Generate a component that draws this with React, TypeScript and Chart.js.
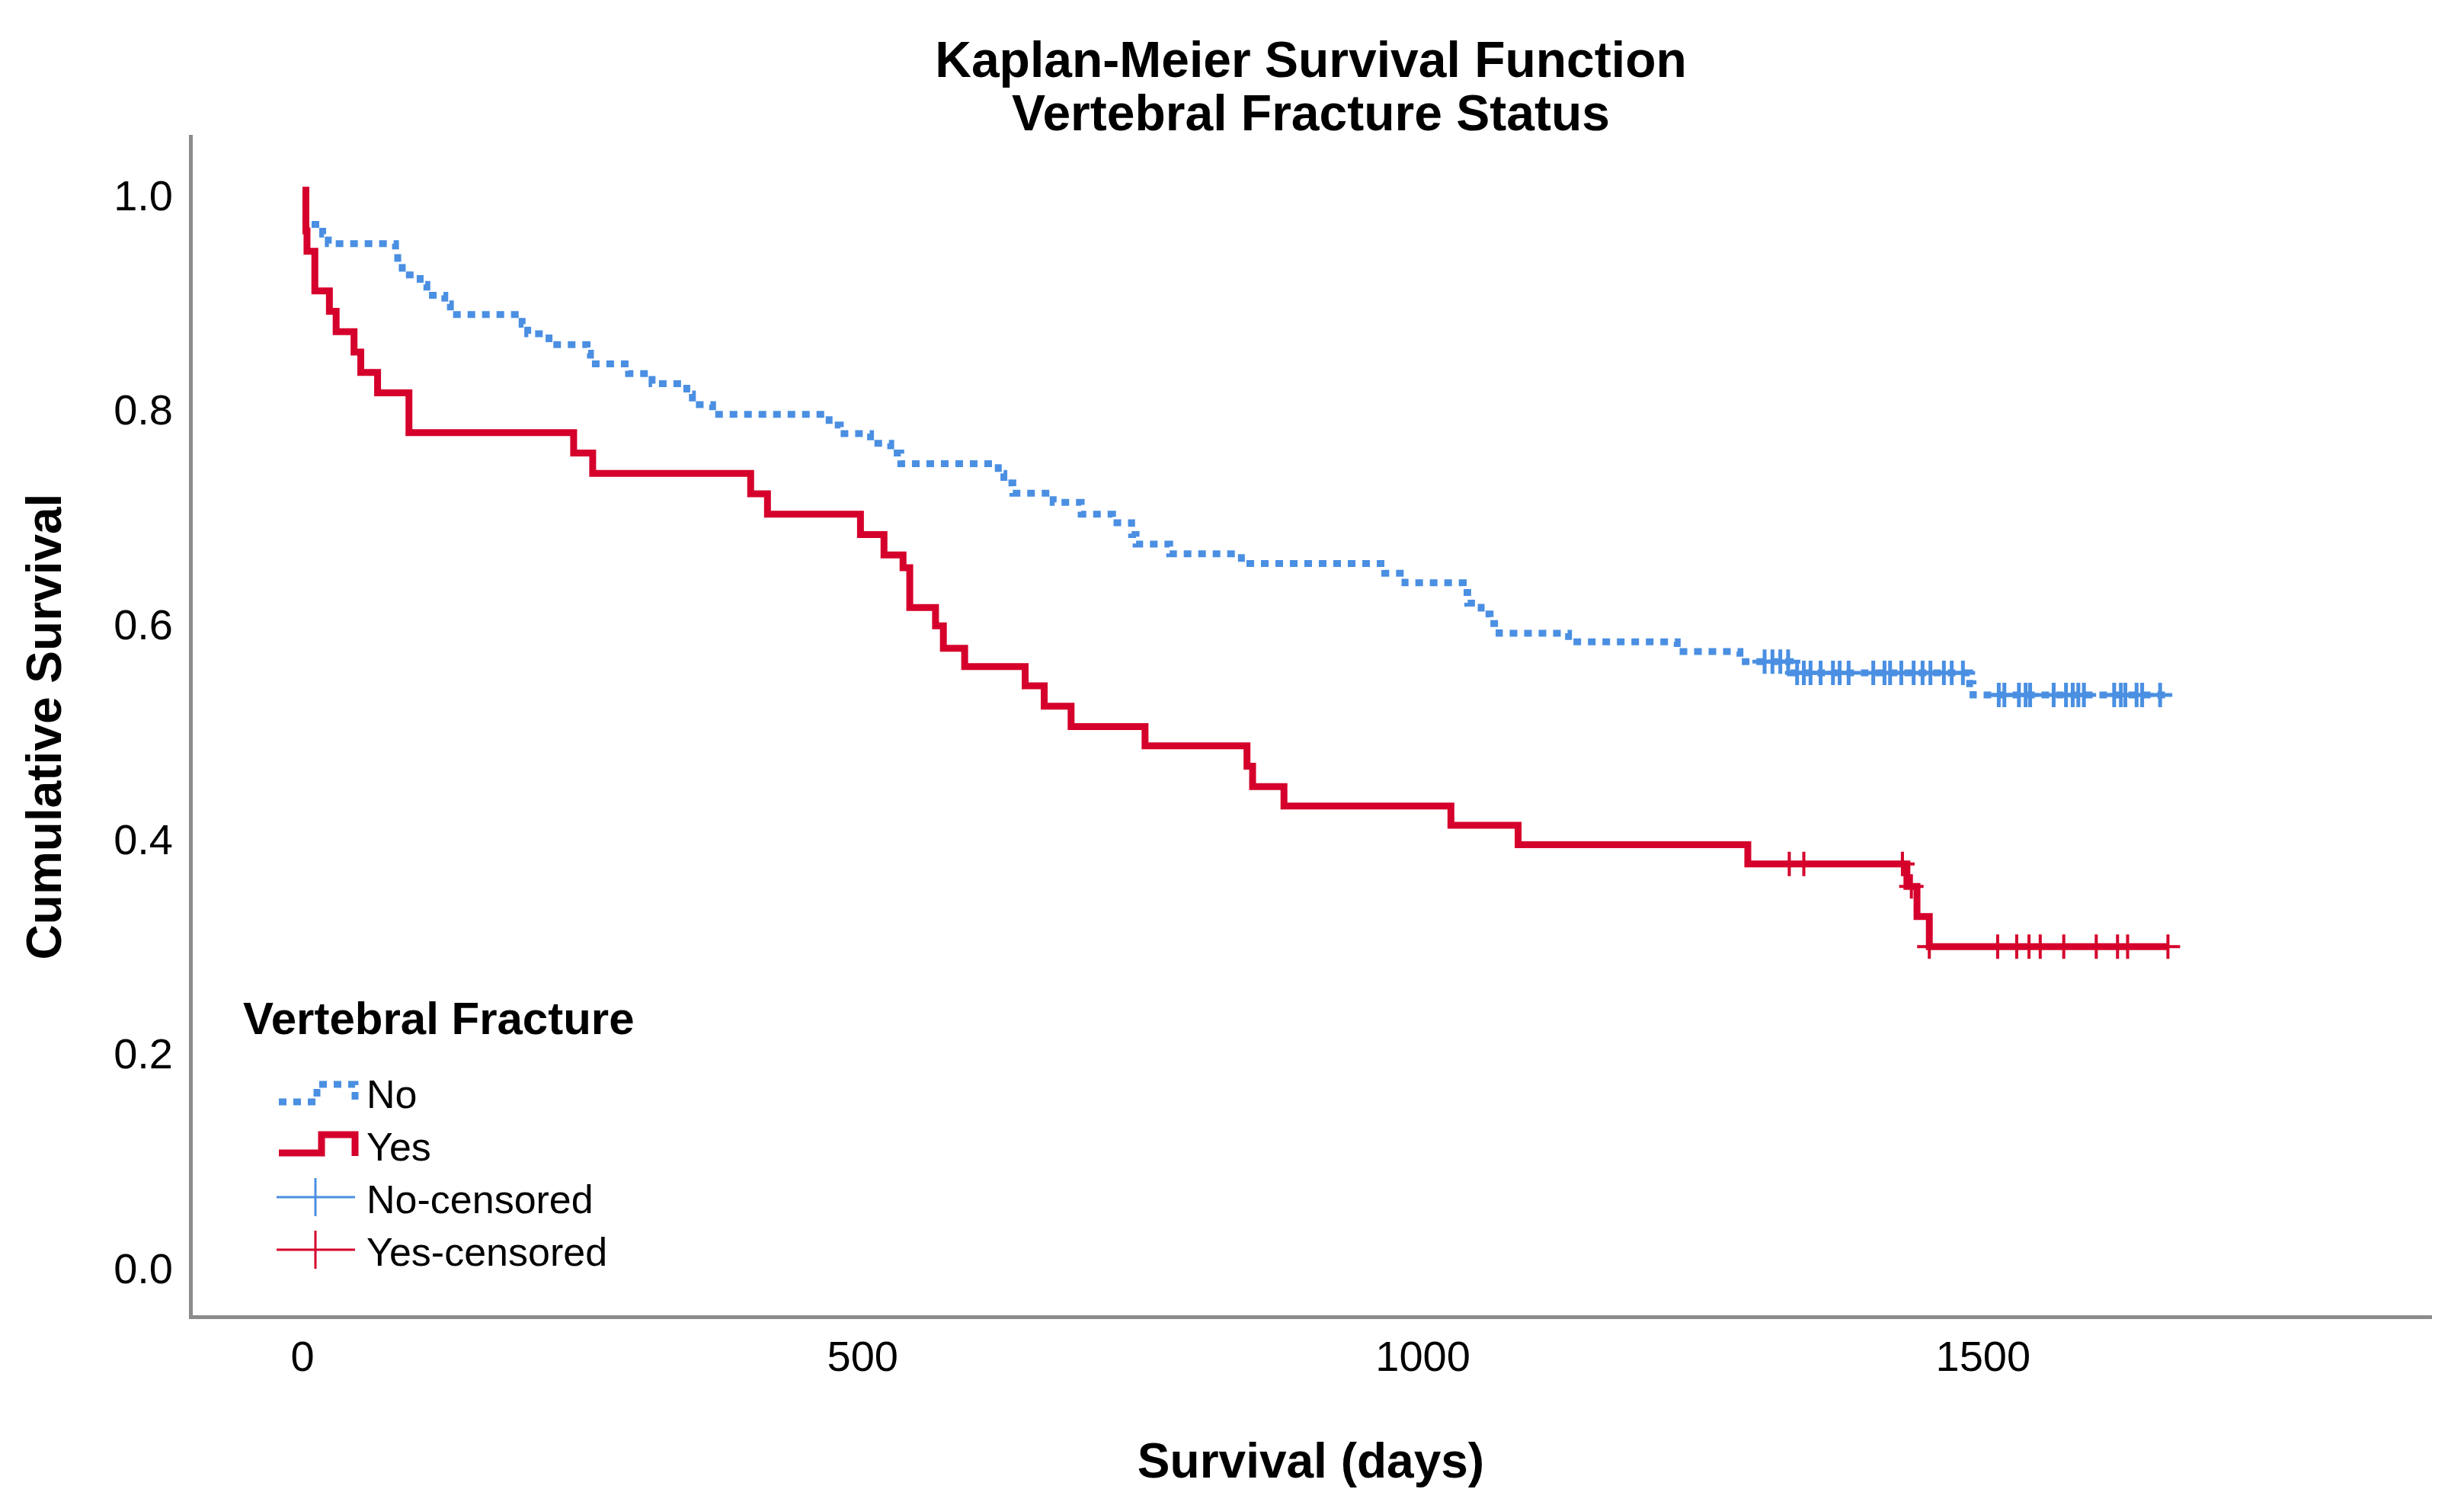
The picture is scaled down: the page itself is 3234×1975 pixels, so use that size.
import React, { useEffect, useRef } from 'react';
import { Chart, registerables } from 'chart.js';

Chart.register(...registerables);

// ---- data ----
const xTickValues = [0, 500, 1000, 1500];
const yTickValues = [0, 0.2, 0.4, 0.6, 0.8, 1.0];

const seriesNames = ['No', 'Yes', 'No-censored', 'Yes-censored'];

// Vertebral Fracture = Yes (event times, survival after event)
const yesDays = [0, 3, 4, 11, 24, 30, 46, 52, 67, 95, 242, 259, 400, 415, 498, 519, 536, 542, 565, 572, 591, 645, 662, 686, 752, 843, 848, 876, 1025, 1085, 1290, 1432, 1441, 1452, 1665];
const yesSurvival = [1.0, 0.962, 0.943, 0.906, 0.887, 0.868, 0.849, 0.83, 0.811, 0.774, 0.755, 0.736, 0.717, 0.698, 0.679, 0.66, 0.648, 0.611, 0.594, 0.573, 0.556, 0.538, 0.519, 0.5, 0.482, 0.463, 0.444, 0.426, 0.408, 0.39, 0.372, 0.351, 0.323, 0.295, 0.295];
const yesCensorDays = [1327, 1340, 1428, 1436, 1452, 1513, 1530, 1541, 1551, 1572, 1601, 1620, 1629, 1665];

// Vertebral Fracture = No
const noDays = [0, 3, 18, 23, 83, 85, 89, 105, 111, 127, 132, 196, 201, 220, 254, 257, 291, 312, 343, 348, 366, 470, 480, 507, 525, 534, 621, 626, 634, 670, 695, 723, 740, 744, 774, 838, 966, 984, 1036, 1040, 1052, 1060, 1068, 1130, 1227, 1283, 1328, 1488, 1491, 1668];
const noSurvival = [1.0, 0.968, 0.959, 0.95, 0.9405, 0.932, 0.921, 0.912, 0.902, 0.894, 0.884, 0.875, 0.866, 0.856, 0.848, 0.838, 0.829, 0.8195, 0.81, 0.8, 0.791, 0.781, 0.773, 0.764, 0.755, 0.745, 0.736, 0.727, 0.7175, 0.709, 0.698, 0.69, 0.679, 0.67, 0.661, 0.652, 0.643, 0.634, 0.625, 0.615, 0.605, 0.596, 0.587, 0.579, 0.57, 0.5605, 0.55, 0.54, 0.5295, 0.5295];
const noCensorDays = [1305, 1312, 1319, 1326, 1334, 1340, 1346, 1355, 1366, 1372, 1380, 1402, 1412, 1417, 1427, 1438, 1446, 1453, 1465, 1472, 1482, 1514, 1519, 1532, 1538, 1542, 1563, 1574, 1580, 1585, 1590, 1617, 1623, 1627, 1637, 1642, 1658];

// ---- styling ----
const BLUE = '#4A8FE2';
const RED = '#D5002B';
const AXIS = '#8C8C8C';
const FAMILY = "'Liberation Sans', Arial, Helvetica, sans-serif";

function survivalAt(days: number[], surv: number[], t: number): number {
  let v = surv[0];
  for (let i = 0; i < days.length; i++) {
    if (days[i] <= t) v = surv[i];
  }
  return v;
}

const legendPlugin = {
  id: 'kmLegend',
  afterDraw(chart: any) {
    const { ctx, chartArea } = chart;
    const L = chartArea.left;
    const B = chartArea.bottom;
    ctx.save();
    ctx.fillStyle = '#000';
    ctx.textBaseline = 'middle';
    ctx.textAlign = 'left';
    ctx.font = `bold 60px ${FAMILY}`;
    ctx.fillText('Vertebral Fracture', L + 69, B - 388);

    const rows = [B - 288, B - 219, B - 150, B - 81];
    const x0 = L + 116;
    const xm = L + 166;
    const x1 = L + 216;

    // No (dotted step)
    ctx.strokeStyle = BLUE;
    ctx.lineWidth = 9;
    ctx.setLineDash([10, 9]);
    ctx.lineJoin = 'miter';
    ctx.beginPath();
    ctx.moveTo(x0, rows[0] + 6);
    ctx.lineTo(xm, rows[0] + 6);
    ctx.lineTo(xm, rows[0] - 17);
    ctx.lineTo(x1, rows[0] - 17);
    ctx.lineTo(x1, rows[0] + 6);
    ctx.stroke();

    // Yes (solid step)
    ctx.setLineDash([]);
    ctx.strokeStyle = RED;
    ctx.lineWidth = 9;
    ctx.beginPath();
    ctx.moveTo(x0, rows[1] + 4);
    ctx.lineTo(xm + 6, rows[1] + 4);
    ctx.lineTo(xm + 6, rows[1] - 20);
    ctx.lineTo(x1, rows[1] - 20);
    ctx.lineTo(x1, rows[1] + 8);
    ctx.stroke();

    // censored crosses
    const cross = (color: string, y: number) => {
      ctx.strokeStyle = color;
      ctx.lineWidth = 3;
      ctx.beginPath();
      ctx.moveTo(x0 - 3, y);
      ctx.lineTo(x1, y);
      ctx.moveTo(xm - 2, y - 25);
      ctx.lineTo(xm - 2, y + 25);
      ctx.stroke();
    };
    cross(BLUE, rows[2] - 7);
    cross(RED, rows[3] - 7);

    ctx.fillStyle = '#000';
    ctx.font = `52px ${FAMILY}`;
    seriesNames.forEach((name, i) => {
      ctx.fillText(name, L + 231, rows[i]);
    });
    ctx.restore();
  },
};

export default function App() {
  const canvasRef = useRef<HTMLCanvasElement | null>(null);

  useEffect(() => {
    document.body.style.margin = '0';
    const canvas = canvasRef.current;
    if (!canvas) return;

    const yesLine = yesDays.map((d, i) => ({ x: d, y: yesSurvival[i] }));
    const noLine = noDays.map((d, i) => ({ x: d, y: noSurvival[i] }));
    const yesCens = yesCensorDays.map((d) => ({ x: d, y: survivalAt(yesDays, yesSurvival, d) }));
    const noCens = noCensorDays.map((d) => ({ x: d, y: survivalAt(noDays, noSurvival, d) }));

    const chart = new Chart(canvas, {
      type: 'line',
      data: {
        datasets: [
          {
            label: seriesNames[1],
            data: yesLine,
            borderColor: RED,
            borderWidth: 9,
            stepped: 'before',
            pointRadius: 0,
            fill: false,
            borderJoinStyle: 'miter',
            borderCapStyle: 'butt',
          },
          {
            label: seriesNames[3],
            data: yesCens,
            showLine: false,
            pointStyle: 'cross',
            pointRadius: 16,
            pointBorderWidth: 4,
            pointBorderColor: RED,
            pointBackgroundColor: RED,
            borderColor: RED,
          },
          {
            label: seriesNames[0],
            data: noLine,
            borderColor: BLUE,
            borderWidth: 9,
            borderDash: [10, 9],
            stepped: 'before',
            pointRadius: 0,
            fill: false,
            borderJoinStyle: 'miter',
            borderCapStyle: 'butt',
          },
          {
            label: seriesNames[2],
            data: noCens,
            showLine: false,
            pointStyle: 'cross',
            pointRadius: 16,
            pointBorderWidth: 5,
            pointBorderColor: BLUE,
            pointBackgroundColor: BLUE,
            borderColor: BLUE,
          },
        ],
      } as any,
      options: {
        animation: false,
        responsive: false,
        devicePixelRatio: 1,
        parsing: false,
        normalized: true,
        layout: { padding: { left: 0, right: 43, top: 0, bottom: 0 } },
        plugins: {
          legend: { display: false },
          tooltip: { enabled: false },
          title: {
            display: true,
            fullSize: false,
            text: ['Kaplan-Meier Survival Function', 'Vertebral Fracture Status'],
            color: '#000',
            font: { family: FAMILY, size: 66, weight: 'bold', lineHeight: 70 / 66 },
            padding: { top: 48, bottom: -9 },
          },
        },
        scales: {
          x: {
            type: 'linear',
            min: -100,
            max: 1900,
            afterBuildTicks: (s: any) => {
              s.ticks = xTickValues.map((v) => ({ value: v }));
            },
            afterFit: (s: any) => {
              s.height = 247;
            },
            grid: { display: false, drawTicks: false },
            border: { display: true, color: AXIS, width: 5 },
            ticks: {
              color: '#000',
              font: { family: FAMILY, size: 56 },
              padding: 22,
              maxRotation: 0,
              autoSkip: false,
              callback: (v: any) => String(v),
            },
            title: {
              display: true,
              text: 'Survival (days)',
              color: '#000',
              font: { family: FAMILY, size: 64, weight: 'bold', lineHeight: 1.2 },
              padding: { top: 0, bottom: 15 },
            },
          },
          y: {
            type: 'linear',
            min: -0.05,
            max: 1.05,
            afterBuildTicks: (s: any) => {
              s.ticks = yTickValues.map((v) => ({ value: v }));
            },
            afterFit: (s: any) => {
              s.width = 250;
            },
            grid: { display: false, drawTicks: false },
            border: { display: true, color: AXIS, width: 5 },
            ticks: {
              color: '#000',
              font: { family: FAMILY, size: 56 },
              padding: 23,
              labelOffset: 11,
              autoSkip: false,
              callback: (v: any) => Number(v).toFixed(1),
            },
            title: {
              display: true,
              text: 'Cumulative Survival',
              color: '#000',
              font: { family: FAMILY, size: 64, weight: 'bold', lineHeight: 1.2 },
              padding: { top: 24, bottom: 0 },
            },
          },
        },
      } as any,
      plugins: [legendPlugin],
    });

    return () => {
      chart.destroy();
    };
  }, []);

  return (
    <div style={{ width: 3234, height: 1975, background: '#fff' }}>
      <canvas ref={canvasRef} width={3234} height={1975} style={{ display: 'block' }} />
    </div>
  );
}
